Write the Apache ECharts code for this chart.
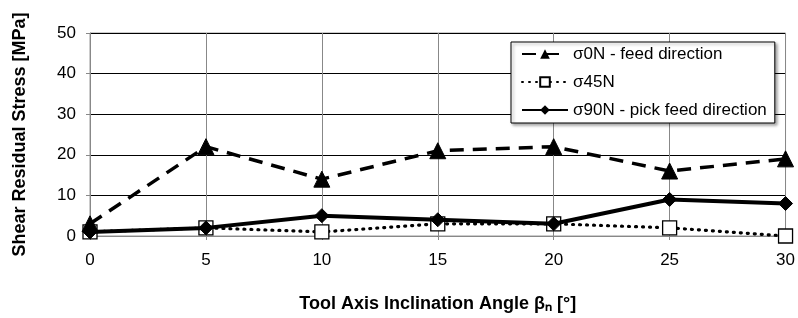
<!DOCTYPE html>
<html>
<head>
<meta charset="utf-8">
<script src="https://cdn.jsdelivr.net/npm/echarts@6/dist/echarts.min.js"></script>
<style>
  html, body { margin: 0; padding: 0; background: #fff; }
  #chart { width: 798px; height: 318px; }
</style>
</head>
<body>
<div id="chart"></div>
<script>
// angles (x) and residual stresses (y)
const angles = [0, 5, 10, 15, 20, 25, 30];
const sigma0 = [3, 22, 14, 21, 22, 16, 19];
const sigma45 = [1, 2, 1, 3, 3, 2, 0];
const sigma90 = [1, 2, 5, 4, 3, 9, 8];
const seriesNames = ['σ0N - feed direction', 'σ45N', 'σ90N - pick feed direction'];

const pairs = (vals) => angles.map((a, i) => [a, vals[i]]);
const font = 'Liberation Sans, Arial, sans-serif';

const myChart = echarts.init(document.getElementById('chart'));

myChart.setOption({
  backgroundColor: '#fff',
  animation: false,
  grid: {
    left: 90,
    right: 12,
    top: 33,
    bottom: 82,
    show: true,
    borderColor: '#999',
    borderWidth: 1,
  },
  legend: {
    orient: 'vertical',
    left: 511,
    top: 42,
    padding: [3, 8, 4, 10],
    itemGap: 10,
    itemWidth: 46,
    itemHeight: 12,
    backgroundColor: '#fff',
    borderColor: '#000',
    borderWidth: 1,
    shadowColor: 'rgba(0,0,0,0.35)',
    shadowBlur: 3,
    shadowOffsetX: 2,
    shadowOffsetY: 2,
    textStyle: { fontFamily: font, fontSize: 17, color: '#000', lineHeight: 18 },
    data: seriesNames,
  },
  xAxis: {
    type: 'value',
    min: 0,
    max: 30,
    interval: 5,
    name: 'Tool Axis Inclination Angle β\u2099 [°]',
    nameLocation: 'middle',
    nameGap: 59,
    nameTextStyle: { fontFamily: font, fontSize: 18, fontWeight: 'bold', color: '#000' },
    axisLine: { lineStyle: { color: '#888', width: 1 } },
    axisTick: { show: true, length: 4, lineStyle: { color: '#888' } },
    axisLabel: { fontFamily: font, fontSize: 17, color: '#000', margin: 16 },
    splitLine: { show: true, lineStyle: { color: '#888', width: 1 } },
  },
  yAxis: {
    type: 'value',
    min: 0,
    max: 50,
    interval: 10,
    name: 'Shear Residual Stress [MPa]',
    nameLocation: 'middle',
    nameGap: 61,
    nameTextStyle: { fontFamily: font, fontSize: 18, fontWeight: 'bold', color: '#000' },
    axisLine: { show: true, lineStyle: { color: '#888', width: 1 } },
    axisTick: { show: true, length: 4, lineStyle: { color: '#888' } },
    axisLabel: { fontFamily: font, fontSize: 17, color: '#000', margin: 14 },
    splitLine: { show: true, lineStyle: { color: '#000', width: 1 } },
  },
  series: [
    {
      name: seriesNames[0],
      type: 'line',
      data: pairs(sigma0),
      symbol: 'triangle',
      symbolSize: 16,
      z: 3,
      lineStyle: { color: '#000', width: 3.5, type: [14, 9] },
      itemStyle: { color: '#000', borderColor: '#000' },
    },
    {
      name: seriesNames[1],
      type: 'line',
      data: pairs(sigma45),
      symbol: 'rect',
      symbolSize: 14,
      z: 2,
      lineStyle: { color: '#000', width: 3.2, type: [1, 6], cap: 'round' },
      itemStyle: { color: '#fff', borderColor: '#000', borderWidth: 1.3 },
    },
    {
      name: seriesNames[2],
      type: 'line',
      data: pairs(sigma90),
      symbol: 'diamond',
      symbolSize: 14,
      z: 4,
      lineStyle: { color: '#000', width: 4 },
      itemStyle: { color: '#000', borderColor: '#000' },
    },
  ],
});
</script>
</body>
</html>
